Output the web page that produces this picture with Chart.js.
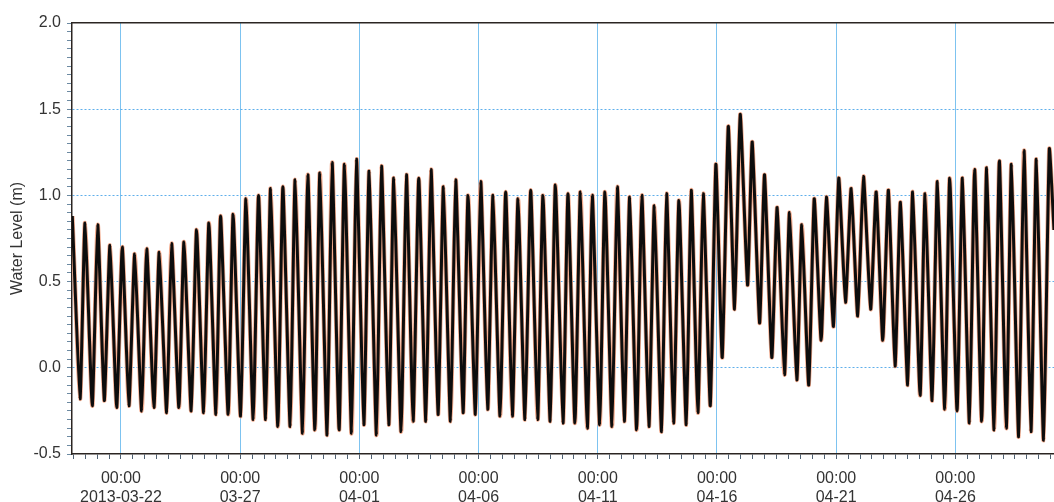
<!DOCTYPE html>
<html>
<head>
<meta charset="utf-8">
<script src="https://cdn.jsdelivr.net/npm/chart.js@4.4.1/dist/chart.umd.min.js"></script>
<style>
  html, body { margin: 0; padding: 0; background: #fff; }
  #wrap { width: 1054px; height: 502px; }
</style>
</head>
<body>
<div id="wrap"><canvas id="chart" width="1054" height="502"></canvas></div>
<script>
// hours after 2013-03-22 00:00, one entry per high / low water
const hours = [
    -49.0, -41.2, -36.2, -28.9, -23.4, -16.8, -11.1, -4.3, 1.3, 8.0,
    13.8, 20.8, 25.9, 33.2, 38.5, 46.0, 51.0, 58.3, 63.4, 70.7,
    76.1, 83.2, 88.5, 95.6, 100.3, 107.9, 112.9, 120.4, 125.8, 133.1,
    138.5, 145.6, 150.6, 157.9, 163.0, 170.3, 175.3, 182.8, 188.1, 195.2,
    200.2, 207.5, 212.6, 219.6, 225.0, 232.1, 237.1, 244.5, 249.8, 257.2,
    262.3, 269.6, 274.6, 282.0, 287.4, 294.1, 299.8, 306.9, 312.2, 319.2,
    324.6, 331.7, 337.0, 344.4, 349.4, 356.8, 362.2, 369.2, 374.5, 381.6,
    387.3, 394.0, 399.7, 406.7, 412.5, 419.5, 424.8, 432.1, 437.3, 445.0,
    450.0, 457.0, 462.5, 469.5, 474.5, 481.9, 487.2, 494.3, 499.7, 506.7,
    512.1, 519.1, 524.4, 531.5, 536.9, 544.2, 549.3, 556.3, 561.7, 569.1,
    574.1, 580.8, 586.2, 593.3, 598.9, 605.3, 611.4, 617.7, 623.4, 630.8,
    635.5, 642.9, 647.9, 655.2, 660.6, 668.0, 673.0, 680.4, 685.4, 692.4,
    697.9, 704.9, 710.2, 717.3, 722.6, 729.4, 735.1, 741.7, 747.5, 754.7,
    760.3, 766.9, 772.6, 779.3, 784.7, 792.0, 797.0, 804.5, 809.5, 816.6,
    821.9, 829.3, 834.3, 841.7, 847.1, 854.1, 859.4, 866.5, 871.5, 879.0,
    884.3, 891.3, 896.4, 903.7, 909.1, 916.1, 921.5, 928.8, 934.6, 939.3
];

// water level (m) at those times
const level = [
    0.88, -0.18, 0.84, -0.22, 0.83, -0.19, 0.71, -0.23, 0.70, -0.22,
    0.66, -0.25, 0.69, -0.23, 0.67, -0.26, 0.72, -0.23, 0.73, -0.25,
    0.80, -0.26, 0.84, -0.27, 0.88, -0.27, 0.89, -0.28, 0.98, -0.30,
    1.00, -0.30, 1.04, -0.34, 1.05, -0.34, 1.09, -0.38, 1.12, -0.36,
    1.13, -0.39, 1.19, -0.36, 1.18, -0.38, 1.21, -0.33, 1.14, -0.39,
    1.17, -0.33, 1.10, -0.37, 1.12, -0.31, 1.10, -0.31, 1.15, -0.27,
    1.05, -0.31, 1.09, -0.26, 1.00, -0.27, 1.08, -0.24, 1.00, -0.28,
    1.02, -0.28, 0.98, -0.30, 1.03, -0.30, 1.00, -0.31, 1.06, -0.32,
    1.01, -0.32, 1.02, -0.35, 1.00, -0.33, 1.02, -0.34, 1.05, -0.31,
    0.99, -0.36, 1.00, -0.34, 0.94, -0.37, 1.01, -0.32, 0.97, -0.33,
    1.03, -0.26, 1.01, -0.22, 1.18, 0.06, 1.40, 0.34, 1.47, 0.48,
    1.31, 0.26, 1.12, 0.06, 0.93, -0.04, 0.90, -0.07, 0.83, -0.10,
    0.98, 0.16, 0.99, 0.24, 1.10, 0.38, 1.04, 0.30, 1.11, 0.34,
    1.02, 0.16, 1.03, 0.01, 0.96, -0.10, 1.02, -0.16, 1.01, -0.19,
    1.08, -0.24, 1.10, -0.25, 1.10, -0.32, 1.15, -0.31, 1.16, -0.36,
    1.20, -0.35, 1.18, -0.40, 1.26, -0.37, 1.21, -0.42, 1.27, 0.80
];

// x tick labels, one every 120 h starting at hour 0
const timeLabel = '00:00';
const dateLabels = ['2013-03-22', '03-27', '04-01', '04-06', '04-11', '04-16', '04-21', '04-26'];
const yLabelValues = [-0.5, 0.0, 0.5, 1.0, 1.5, 2.0];

function isMajorX(v) {
    return v >= 0 && v % 120 === 0 && v / 120 < dateLabels.length;
}

function isMajorY(v) {
    return yLabelValues.some(t => Math.abs(t - v) < 1e-6);
}

const points = hours.map((h, i) => ({x: h, y: level[i]}));

const gridBlue = 'rgb(125, 195, 240)';
const gridBlueDot = 'rgb(95, 175, 235)';
const axisDark = '#2b2522';
const textColor = '#333333';
const font = {family: "'Liberation Sans', Arial, sans-serif", size: 16};

new Chart(document.getElementById('chart'), {
    type: 'line',
    data: {
        datasets: [{
            label: 'Measured',
            data: points,
            borderColor: '#0d0d0d',
            borderWidth: 3,
            pointRadius: 0,
            tension: 0.15,
            order: 0
        }, {
            label: 'Simulated',
            data: points,
            borderColor: 'rgb(242, 170, 140)',
            borderWidth: 4.5,
            pointRadius: 0,
            tension: 0.15,
            order: 1
        }]
    },
    options: {
        responsive: false,
        animation: false,
        layout: {padding: {top: 23, left: 0, right: 0, bottom: 0}},
        plugins: {
            legend: {display: false},
            tooltip: {enabled: false}
        },
        scales: {
            x: {
                type: 'linear',
                position: 'bottom',
                min: -49.3,
                max: 939.3,
                afterFit: s => {
                    s.height = 48;
                    s.paddingLeft = 0;
                    s.paddingRight = 0;
                },
                border: {color: axisDark, width: 1.5},
                grid: {
                    color: ctx => (ctx.tick && isMajorX(ctx.tick.value)) ? gridBlue : 'rgba(0,0,0,0)',
                    tickColor: '#4f6072',
                    tickLength: 5
                },
                ticks: {
                    stepSize: 12,
                    autoSkip: false,
                    includeBounds: false,
                    maxRotation: 0,
                    minRotation: 0,
                    padding: 10,
                    color: textColor,
                    font: font,
                    callback: v => isMajorX(v) ? [timeLabel, dateLabels[v / 120]] : ''
                }
            },
            xTop: {
                type: 'linear',
                position: 'top',
                min: -49.3,
                max: 939.3,
                afterFit: s => { s.height = 0; },
                border: {color: axisDark, width: 1.5},
                grid: {display: false, drawTicks: false},
                ticks: {display: false}
            },
            y: {
                min: -0.5,
                max: 2.0,
                afterFit: s => { s.width = 72; },
                border: {color: axisDark, width: 1.5, dash: [2, 2]},
                grid: {
                    color: ctx => (ctx.tick && isMajorY(ctx.tick.value) && ctx.tick.value > -0.4 && ctx.tick.value < 1.9) ? gridBlueDot : 'rgba(0,0,0,0)',
                    lineWidth: 1,
                    tickColor: '#6c8aa2',
                    tickLength: 5
                },
                ticks: {
                    stepSize: 0.05,
                    autoSkip: false,
                    includeBounds: false,
                    padding: 6,
                    color: textColor,
                    font: font,
                    callback: v => isMajorY(v) ? v.toFixed(1) : ''
                },
                title: {
                    display: true,
                    text: 'Water Level (m)',
                    color: textColor,
                    font: font,
                    padding: {top: 8, bottom: 0}
                }
            }
        }
    }
});
</script>
</body>
</html>
